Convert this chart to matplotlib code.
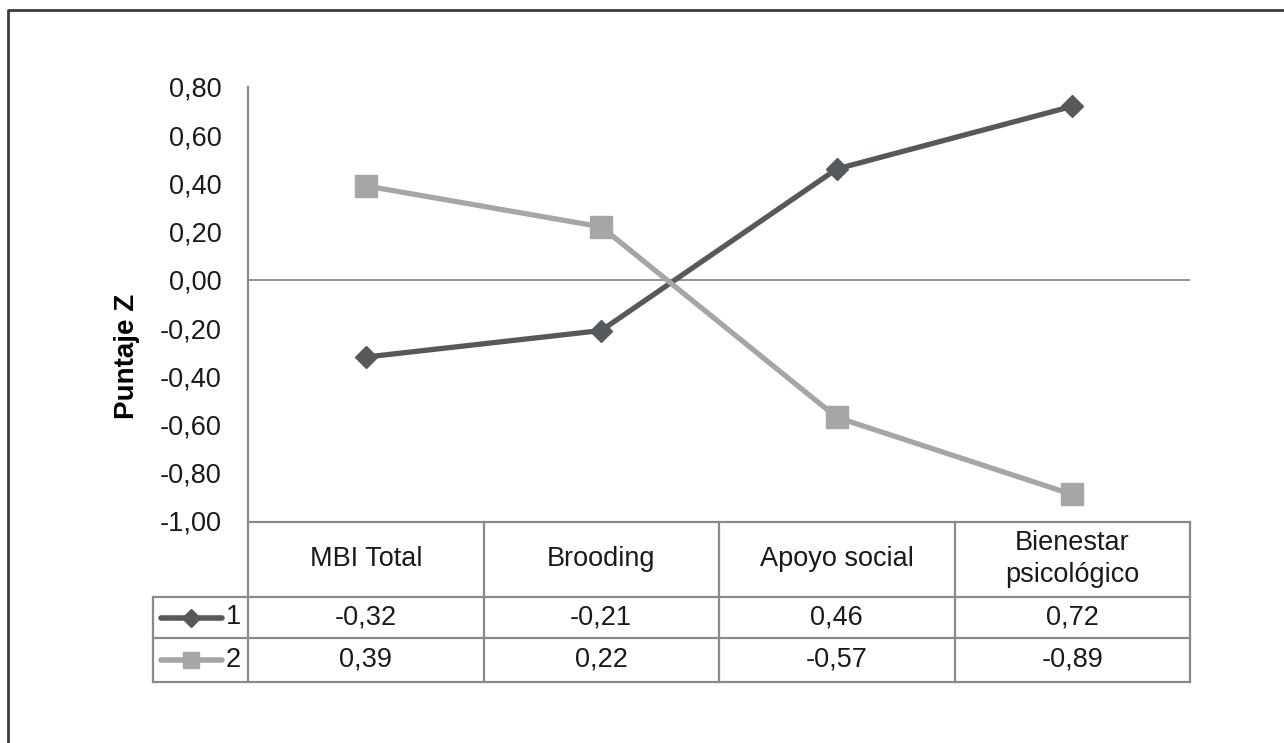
import matplotlib.pyplot as plt

plt.rcParams['font.family'] = ['Liberation Sans', 'DejaVu Sans']

# datos
categorias = ['MBI Total', 'Brooding', 'Apoyo social', 'Bienestar\npsicológico']
grupo1 = [-0.32, -0.21, 0.46, 0.72]
grupo2 = [0.39, 0.22, -0.57, -0.89]
series = ['1', '2']
yticks = [-1.0, -0.8, -0.6, -0.4, -0.2, 0.0, 0.2, 0.4, 0.6, 0.8]

c1 = '#55595b'
c2 = '#a6a6a6'
grid_c = '#8a8a8a'
fs = 19.5

def coma(v):
    return f"{v:.2f}".replace('.', ',')

W, H = 1284, 743
fig = plt.figure(figsize=(W / 100, H / 100), dpi=100)

# capa de fondo en pixeles para marco y tabla
bg = fig.add_axes([0, 0, 1, 1])
bg.set_xlim(0, W)
bg.set_ylim(H, 0)
bg.axis('off')

# marco exterior (solo se ve arriba e izquierda)
bg.plot([8, 8, W + 5], [H + 5, 10, 10], color='#3c3c3c', lw=2)

# grafico
x0, x1, ytop, ybot = 248, 1190, 87, 521
ax = fig.add_axes([x0 / W, 1 - ybot / H, (x1 - x0) / W, (ybot - ytop) / H])
ax.set_facecolor('none')
xs = [i + 0.5 for i in range(len(categorias))]
ax.plot(xs, grupo1, color=c1, lw=3.8, marker='D', ms=11.5, zorder=3)
ax.plot(xs, grupo2, color=c2, lw=3.8, marker='s', ms=15.5, zorder=3)
ax.axhline(0, color=grid_c, lw=1.3, zorder=1)
ax.set_xlim(0, len(categorias))
ax.set_ylim(-1.0, 0.8)
ax.set_yticks(yticks)
ax.set_yticklabels([coma(v) for v in yticks], fontsize=fs, color='#1a1a1a')
ax.tick_params(axis='y', length=0, pad=19)
ax.set_xticks([])
for s in ['top', 'right', 'bottom']:
    ax.spines[s].set_visible(False)
ax.spines['left'].set_color(grid_c)
ax.spines['left'].set_linewidth(1.6)

fig.text(127 / W, 1 - 356 / H, 'Puntaje Z', rotation=90, fontsize=20,
         fontweight='bold', ha='center', va='center')

# tabla de datos
colw = (x1 - x0) / len(categorias)
leg_x = 153
y_head, y_r1, y_r2, y_end = 522, 597, 638, 682
lw_t = 1.6
bg.plot([x0, x1], [y_head, y_head], color=grid_c, lw=lw_t)
for y in [y_r1, y_r2, y_end]:
    bg.plot([leg_x, x1], [y, y], color=grid_c, lw=lw_t)
for k in range(len(categorias) + 1):
    bg.plot([x0 + k * colw] * 2, [y_head, y_end], color=grid_c, lw=lw_t)
bg.plot([leg_x, leg_x], [y_r1, y_end], color=grid_c, lw=lw_t)

for i, cat in enumerate(categorias):
    cx = x0 + (i + 0.5) * colw
    bg.text(cx, (y_head + y_r1) / 2, cat, fontsize=fs, ha='center', va='center',
            linespacing=1.3, color='#1a1a1a')
    bg.text(cx, (y_r1 + y_r2) / 2, coma(grupo1[i]), fontsize=fs, ha='center',
            va='center', color='#1a1a1a')
    bg.text(cx, (y_r2 + y_end) / 2, coma(grupo2[i]), fontsize=fs, ha='center',
            va='center', color='#1a1a1a')

# claves de leyenda en la tabla
for yr, col, mk, ms, lab in [((y_r1 + y_r2) / 2, c1, 'D', 9, series[0]),
                             ((y_r2 + y_end) / 2, c2, 's', 11, series[1])]:
    bg.plot([161, 222], [yr, yr], color=col, lw=4, solid_capstyle='round')
    bg.plot([191], [yr], color=col, marker=mk, ms=ms, ls='none')
    bg.text(233, yr, lab, fontsize=fs, ha='center', va='center', color='#1a1a1a')

fig.savefig('out.png', dpi=100)
